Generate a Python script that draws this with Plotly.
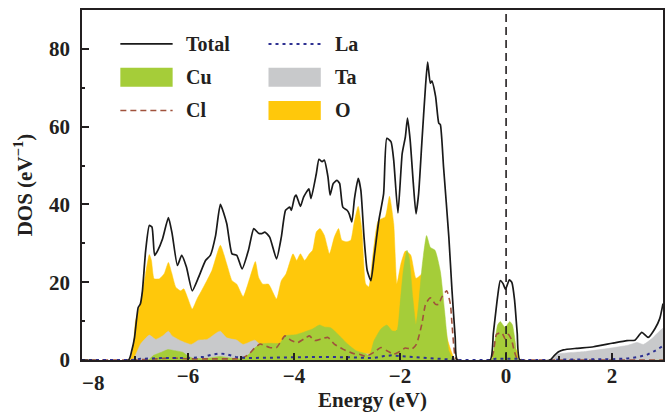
import plotly.graph_objects as go

# ---------------- data ----------------
TOTAL_E = [-8.0, -7.12, -7.06, -7.01, -6.94, -6.90, -6.86, -6.80, -6.73, -6.68, -6.63, -6.57, -6.48,
           -6.37, -6.30, -6.20, -6.12, -6.03, -5.92, -5.80, -5.67, -5.58, -5.48, -5.39, -5.27, -5.17,
           -5.08, -4.98, -4.86, -4.76, -4.67, -4.61, -4.55, -4.46, -4.33, -4.24, -4.16, -4.08, -4.05,
           -3.99, -3.96, -3.88, -3.82, -3.72, -3.68, -3.58, -3.53, -3.47, -3.43, -3.36, -3.32, -3.26,
           -3.19, -3.14, -3.08, -3.00, -2.96, -2.91, -2.86, -2.79, -2.74, -2.68, -2.62, -2.55, -2.49,
           -2.40, -2.31, -2.25, -2.17, -2.12, -2.04, -1.96, -1.90, -1.86, -1.81, -1.75, -1.70, -1.65,
           -1.59, -1.52, -1.48, -1.43, -1.40, -1.33, -1.27, -1.24, -1.18, -1.08, -1.02, -0.96, -0.92,
           -0.30, -0.24, -0.16, -0.11, -0.06, -0.01, 0.06, 0.11, 0.16, 0.21, 0.26,
           0.83, 0.90, 0.99, 1.08, 1.33, 1.65, 2.00, 2.28, 2.43, 2.56, 2.68, 2.81, 2.90, 2.96]
TOTAL_V = [0, 0, 2.5, 5.7, 13.5, 14.4, 17.8, 28.0, 34.6, 34.2, 26.9, 28.2, 31.2,
           36.6, 32.5, 24.3, 26.9, 23.9, 17.8, 21.3, 25.6, 26.9, 32.0, 40.0, 35.1, 27.3,
           26.9, 23.4, 28.2, 33.8, 32.6, 32.5, 32.9, 31.6, 26.0, 31.6, 38.5, 39.3, 38.5,
           41.9, 42.4, 39.5, 41.9, 44.0, 41.5, 47.9, 51.6, 51.0, 51.4, 47.1, 42.4, 45.4,
           46.2, 45.4, 39.3, 38.5, 37.6, 35.5, 41.5, 46.7, 43.7, 31.6, 23.0, 20.4, 26.4,
           35.9, 42.8, 57.0, 56.1, 51.4, 37.8, 53.1, 57.4, 62.2, 56.6, 45.4, 37.6, 42.8,
           55.7, 70.4, 76.6, 71.2, 71.7, 67.8, 60.9, 60.5, 49.7, 31.6, 17.8, 5.8, 0,
           0, 6.9, 16.3, 20.4, 19.7, 18.2, 20.6, 19.9, 15.4, 6.9, 0,
           0, 1.0, 2.1, 2.6, 3.0, 3.4, 4.3, 5.0, 5.1, 7.1, 5.8, 8.1, 10.7, 14.5]

CU_E = [-8.0, -6.75, -6.65, -6.50, -6.38, -6.25, -6.10, -6.00, -5.90, -5.60, -5.40, -5.20, -5.00,
        -4.85, -4.75, -4.64, -4.45, -4.27, -4.17, -3.97, -3.83, -3.65, -3.52, -3.43, -3.31, -3.14,
        -2.99, -2.83, -2.65, -2.58, -2.49, -2.36, -2.25, -2.15, -2.06, -2.00, -1.94, -1.87, -1.83,
        -1.76, -1.70, -1.65, -1.58, -1.50, -1.43, -1.34, -1.24, -1.16, -1.08, -1.02, -0.97,
        -0.27, -0.22, -0.16, -0.11, -0.02, 0.07, 0.12, 0.18, 0.23, 2.96]
CU_V = [0, 0, 1.2, 2.0, 2.7, 2.4, 2.0, 1.0, 0.4, 0.5, 0.9, 0.5, 0.3,
        1.5, 3.0, 4.1, 4.3, 4.3, 6.2, 6.5, 7.1, 8.0, 9.0, 8.5, 8.3, 6.2,
        4.1, 2.4, 1.6, 1.0, 5.0, 8.0, 9.0, 7.5, 7.5, 14.3, 22.8, 28.2, 26.4,
        16.0, 9.2, 14.3, 24.6, 32.0, 29.0, 28.2, 22.8, 12.6, 2.4, 0.7, 0,
        0, 4.0, 9.0, 9.9, 8.4, 9.9, 9.0, 4.0, 0, 0]

O_E = [-8.0, -7.10, -6.99, -6.90, -6.80, -6.73, -6.69, -6.64, -6.54, -6.45, -6.37, -6.31, -6.23,
       -6.14, -6.08, -6.01, -5.92, -5.83, -5.71, -5.55, -5.39, -5.27, -5.17, -5.08, -4.96, -4.83,
       -4.73, -4.67, -4.59, -4.48, -4.33, -4.24, -4.15, -4.02, -3.95, -3.88, -3.80, -3.71, -3.65,
       -3.58, -3.51, -3.43, -3.33, -3.24, -3.16, -3.10, -3.01, -2.93, -2.87, -2.79, -2.72, -2.65,
       -2.59, -2.51, -2.41, -2.28, -2.20, -2.12, -2.06, -1.98, -1.90, -1.80, -1.70, -1.60, -1.50,
       -1.40, -1.30, -1.20, -1.10, -1.00, -0.95,
       -0.28, -0.23, -0.18, 0.15, 0.20, 0.25,
       0.90, 1.00, 2.00, 2.30, 2.50, 2.70, 2.85, 2.96]
O_V = [0, 0, 10.1, 14.4, 22.2, 27.1, 25.6, 20.9, 20.9, 22.2, 25.1, 22.5, 18.7,
       17.8, 18.3, 16.1, 13.1, 15.7, 18.7, 23.0, 29.5, 24.7, 20.4, 19.5, 16.3, 21.3,
       25.3, 21.3, 19.5, 19.5, 15.7, 20.4, 22.2, 27.3, 25.6, 27.3, 25.6, 27.3, 28.2,
       32.9, 33.8, 32.1, 27.3, 31.6, 33.8, 30.8, 30.4, 30.8, 35.1, 39.5, 33.4, 19.6,
       18.8, 27.3, 35.9, 36.8, 42.1, 35.1, 19.6, 25.0, 28.0, 27.0, 21.0, 22.0, 24.0,
       22.0, 18.0, 12.0, 5.0, 1.0, 0,
       0, 2.5, 3.2, 3.2, 2.5, 0,
       0, 0.3, 0.4, 0.6, 0.8, 1.3, 1.8, 2.2]

TA_E = [-8.0, -7.05, -6.95, -6.90, -6.73, -6.61, -6.48, -6.37, -6.30, -6.13, -5.94, -5.80, -5.64,
        -5.45, -5.39, -5.27, -5.08, -4.96, -4.74, -4.61, -4.45, -4.20, -3.50, -3.00, -2.50, -2.00,
        -1.50, -1.00, -0.92, -0.30, -0.20, 0.20, 0.30,
        0.85, 0.97, 1.50, 1.94, 2.30, 2.47, 2.59, 2.75, 2.90, 2.96]
TA_V = [0, 0, 2.5, 4.0, 6.4, 5.3, 6.2, 7.4, 6.2, 4.9, 4.0, 5.1, 5.3,
        7.1, 7.4, 5.7, 5.1, 4.0, 5.1, 3.6, 2.5, 2.0, 2.0, 1.8, 1.5, 1.5,
        1.2, 0.5, 0, 0, 0.5, 0.5, 0,
        0, 1.5, 2.2, 3.0, 3.8, 4.5, 4.0, 5.5, 7.5, 8.2]

CL_E = [-8.0, -7.00, -6.60, -6.30, -6.00, -5.50, -5.00, -4.85, -4.75, -4.64, -4.46, -4.33, -4.17,
        -4.05, -3.93, -3.77, -3.71, -3.61, -3.49, -3.36, -3.24, -3.08, -2.89, -2.77, -2.65, -2.49,
        -2.36, -2.25, -2.12, -2.03, -1.90, -1.78, -1.69, -1.59, -1.52, -1.43, -1.33, -1.27, -1.22,
        -1.12, -1.05, -1.02, -0.96, -0.92,
        -0.30, -0.24, -0.18, -0.08, -0.02, 0.04, 0.10, 0.16, 0.22, 0.30, 2.96]
CL_V = [0, 0, 0.3, 0.5, 0.3, 0.3, 0.4, 1.5, 3.0, 4.1, 3.2, 3.2, 6.2,
        5.0, 4.5, 5.8, 6.2, 5.0, 5.4, 5.8, 4.1, 2.8, 1.7, 1.5, 0.9, 2.0,
        3.2, 2.4, 1.5, 2.0, 3.1, 2.8, 4.1, 9.2, 14.3, 16.0, 14.3, 14.3, 16.0,
        17.8, 14.3, 9.2, 0.7, 0,
        0, 2.0, 6.6, 7.0, 5.5, 6.6, 5.3, 2.0, 0, 0, 0]

LA_E = [-8.0, -7.05, -6.90, -6.50, -6.00, -5.70, -5.55, -5.40, -5.25, -5.10, -4.90, -4.60, -4.00,
        -3.50, -3.00, -2.70, -2.50, -2.30, -2.15, -2.00, -1.80, -1.50, -1.20, -1.00, -0.92,
        -0.30, -0.20, 0.20, 0.30, 0.85, 1.00, 2.00, 2.30, 2.50, 2.65, 2.80, 2.90, 2.96]
LA_V = [0, 0, 0.3, 0.5, 0.5, 0.8, 1.4, 1.7, 1.4, 0.8, 0.5, 0.6, 0.8,
        0.8, 0.7, 0.6, 0.5, 1.0, 1.2, 1.0, 0.8, 0.5, 0.3, 0.1, 0,
        0, 0.3, 0.3, 0, 0, 0.1, 0.2, 0.4, 0.8, 1.3, 2.3, 3.2, 3.6]

X_TICKS = [-6, -4, -2, 0, 2]
X_EDGE_TICK = -8          # left-edge label, drawn flush right of the axis like the reference
Y_TICKS = [0, 20, 40, 60, 80]

# ---------------- styling ----------------
FONT = "Liberation Serif"
INK = "#231f20"
C_TOTAL = "#1a1a1a"
C_CU = "#a5cd39"
C_TA = "#c8c9cb"
C_O = "#ffc80b"
C_CL = "#a0523c"
C_LA = "#2e3192"
SMOOTH = 0.5

fig = go.Figure()

for name, xs, ys, col in [("O", O_E, O_V, C_O), ("Ta", TA_E, TA_V, C_TA), ("Cu", CU_E, CU_V, C_CU)]:
    fig.add_trace(go.Scatter(x=xs, y=ys, name=name, mode="lines", fill="tozeroy",
                             fillcolor=col, line=dict(color=col, width=0.5, shape="spline", smoothing=SMOOTH),
                             showlegend=False))

fig.add_trace(go.Scatter(x=CL_E, y=CL_V, name="Cl", mode="lines",
                         line=dict(color=C_CL, width=1.6, dash="6px,4px", shape="spline", smoothing=SMOOTH),
                         showlegend=False))
fig.add_trace(go.Scatter(x=LA_E, y=LA_V, name="La", mode="lines",
                         line=dict(color=C_LA, width=2, dash="3px,4px"), showlegend=False))
fig.add_trace(go.Scatter(x=TOTAL_E, y=TOTAL_V, name="Total", mode="lines",
                         line=dict(color=C_TOTAL, width=1.7, shape="spline", smoothing=SMOOTH),
                         showlegend=False))

# Fermi level
fig.add_shape(type="line", xref="x", yref="paper", x0=0, x1=0, y0=0, y1=1,
              line=dict(color=INK, width=1.6, dash="8px,5px"), layer="above")

# ---------------- manual legend (paper coords) ----------------
legend_font = dict(family=FONT, size=20, color=INK, weight="bold")
c1 = (0.066, 0.156, 0.175)
c2 = (0.321, 0.411, 0.432)
rows = (0.903, 0.808, 0.713)
box_h = 0.027

def leg_line(col, row, color, dash, width):
    fig.add_shape(type="line", xref="paper", yref="paper", x0=col[0], x1=col[1], y0=row, y1=row,
                  line=dict(color=color, width=width, dash=dash))

def leg_box(col, row, color):
    fig.add_shape(type="rect", xref="paper", yref="paper", x0=col[0], x1=col[1],
                  y0=row - box_h, y1=row + box_h, fillcolor=color, line=dict(width=0))

def leg_text(col, row, text):
    fig.add_annotation(xref="paper", yref="paper", x=col[2], y=row, text=text, showarrow=False,
                       xanchor="left", yanchor="middle", font=legend_font)

leg_line(c1, rows[0], C_TOTAL, "solid", 1.7); leg_text(c1, rows[0], "Total")
leg_box(c1, rows[1], C_CU); leg_text(c1, rows[1], "Cu")
leg_line(c1, rows[2], C_CL, "6px,4px", 1.6); leg_text(c1, rows[2], "Cl")
leg_line(c2, rows[0], C_LA, "3px,4px", 2); leg_text(c2, rows[0], "La")
leg_box(c2, rows[1], C_TA); leg_text(c2, rows[1], "Ta")
leg_box(c2, rows[2], C_O); leg_text(c2, rows[2], "O")

axis_font = dict(family=FONT, size=21, color=INK, weight="bold")

# left-edge x tick label
fig.add_annotation(xref="x", yref="paper", x=X_EDGE_TICK, y=0, text=f"\u2212{abs(X_EDGE_TICK)}",
                   showarrow=False, xanchor="left", yanchor="top", yshift=-9, xshift=-2, font=axis_font)

fig.update_layout(
    width=672, height=418,
    margin=dict(l=82, r=9, t=10, b=58),
    paper_bgcolor="white", plot_bgcolor="white",
    showlegend=False,
    font=dict(family=FONT, color=INK),
    xaxis=dict(range=[-8, 2.96], tickvals=X_TICKS, ticks="inside", ticklen=7,
               tickwidth=1.5, tickcolor=INK, showline=True, mirror=True, linecolor=INK, linewidth=1.6,
               showgrid=False, zeroline=False, tickfont=axis_font, ticklabelstandoff=-4,
               automargin=False,
               minor=dict(dtick=1, tick0=0, ticks="inside", ticklen=4, tickwidth=1.5, tickcolor=INK, showgrid=False),
               title=dict(text="Energy (eV)", font=axis_font, standoff=5)),
    yaxis=dict(range=[0, 90], tickvals=Y_TICKS, ticks="inside", ticklen=7, tickwidth=1.5,
               tickcolor=INK, showline=True, mirror=True, linecolor=INK, linewidth=1.6,
               showgrid=False, zeroline=False, tickfont=axis_font, ticklabelstandoff=6,
               automargin=False,
               minor=dict(dtick=10, tick0=0, ticks="inside", ticklen=3, tickwidth=1.5, tickcolor=INK, showgrid=False),
               title=dict(text="DOS (eV<sup>−1</sup>)", font=axis_font, standoff=11)),
)

fig.write_html("out.html", config={"displayModeBar": False},
               post_script="document.body.style.margin='0';")
